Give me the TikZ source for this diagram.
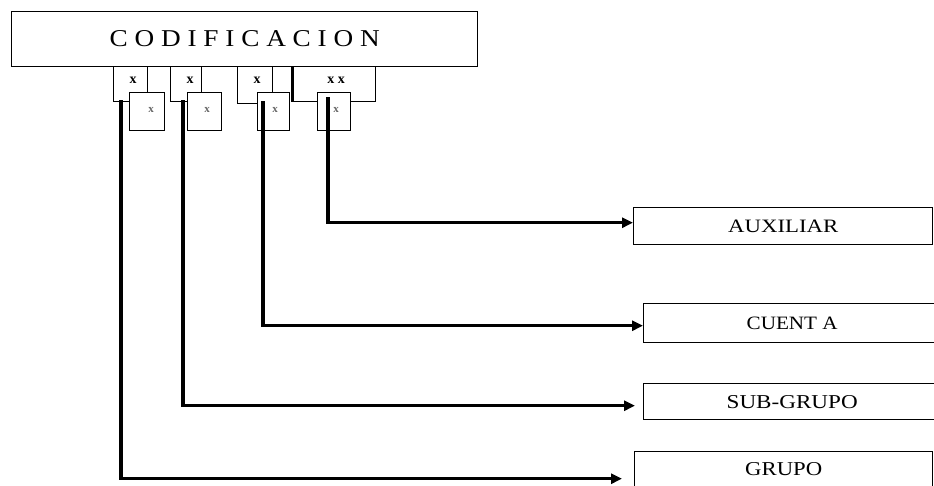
\documentclass[tikz,border=0pt]{standalone}
\usepackage{fontspec}
\usepackage{graphicx}
\setmainfont{Liberation Serif}
\usetikzlibrary{arrows.meta}
\tikzset{
  bigbox/.style={draw, line width=1.4pt, rectangle, inner sep=0pt, anchor=north west, fill=white},
  cell/.style={draw, line width=1.1pt, rectangle, inner sep=0pt, anchor=north west, fill=white},
  conn/.style={line width=3.5pt, -{Triangle[length=11pt,width=10pt]}},
  xup/.style={font=\fontsize{14}{14}\selectfont\bfseries, inner sep=0pt},
  xlow/.style={font=\fontsize{11}{11}\selectfont\bfseries, inner sep=0pt, text=black!60},
}
\begin{document}
\begin{tikzpicture}[x=1pt,y=-1pt]
\useasboundingbox (0,0) rectangle (934,485);
\clip (0,0) rectangle (934,485);
\fill[white] (0,0) rectangle (934,485);

% main box
\node[bigbox, minimum width=466pt, minimum height=55pt] (cod) at (11,11)
  {\raisebox{1pt}{\resizebox{270pt}{16pt}{C O D I F I C A C I O N}}};

% upper cells
\node[cell, minimum width=34pt, minimum height=35pt] (u1) at (113,66) {};
\node[cell, minimum width=31pt, minimum height=35pt] (u2) at (170,66) {};
\node[cell, minimum width=35pt, minimum height=37pt] (u3) at (237,66) {};
\node[cell, minimum width=83pt, minimum height=35pt] (u4) at (292,66) {};
\draw[line width=3pt] (u4.north west) -- (u4.south west);

\node[xup] (xu1) at (133,80) {x};
\node[xup] (xu2) at (190,80) {x};
\node[xup] (xu3) at (257,80) {x};
\node[xup] (xu4) at (336,80) {x x};

% lower cells
\node[cell, minimum width=35pt, minimum height=38pt] (l1) at (129,92) {};
\node[cell, minimum width=34pt, minimum height=38pt] (l2) at (187,92) {};
\node[cell, minimum width=32pt, minimum height=38pt] (l3) at (257,92) {};
\node[cell, minimum width=33pt, minimum height=38pt] (l4) at (317,92) {};

\node[xlow] (xl1) at (151,110) {x};
\node[xlow] (xl2) at (207,110) {x};
\node[xlow] (xl3) at (275,110) {x};
\node[xlow] (xl4) at (336,110) {x};

% right boxes
\node[bigbox, minimum width=299pt, minimum height=37pt] (aux) at (633,207)
  {\resizebox{110pt}{12.5pt}{AUXILIAR}};
\node[bigbox, minimum width=297pt, minimum height=39pt] (cta) at (643,303)
  {\resizebox{91pt}{12.5pt}{CUENT A}};
\node[bigbox, minimum width=297pt, minimum height=36pt] (sub) at (643,383)
  {\resizebox{131pt}{13pt}{SUB-GRUPO}};
\node[bigbox, minimum width=298pt, minimum height=40pt] (gru) at (634,451)
  {\raisebox{6pt}{\resizebox{77pt}{13pt}{GRUPO}}};

% connector start points
\coordinate (c1) at (121,100);
\coordinate (c2) at (183,100);
\coordinate (c3) at (263,101);
\coordinate (c4) at (328,97);

\draw[conn] (c4) |- ([yshift=3.5pt]aux.west);
\draw[conn] (c3) |- ([yshift=-2.5pt]cta.west);
\draw[conn, shorten >=8pt] (c2) |- ([yshift=-4pt]sub.west);
\draw[conn, shorten >=12pt] (c1) |- ([yshift=-7pt]gru.west);
\end{tikzpicture}
\end{document}
